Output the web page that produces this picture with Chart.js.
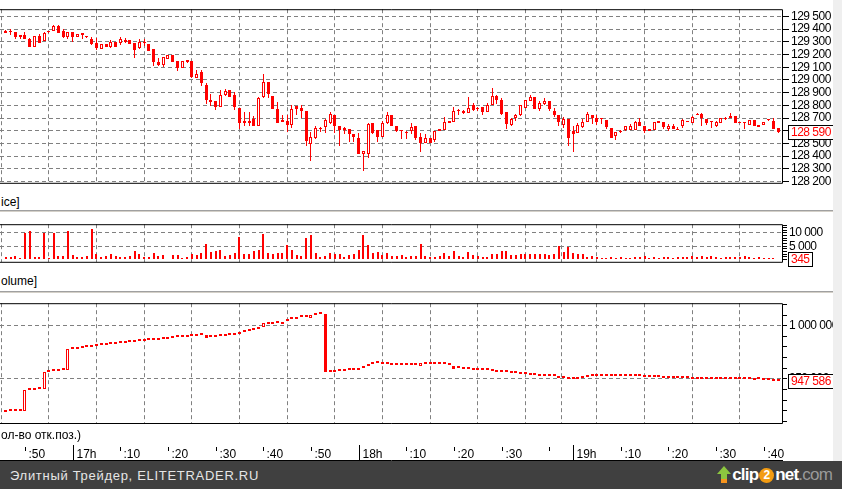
<!DOCTYPE html>
<html>
<head>
<meta charset="utf-8">
<script src="https://cdn.jsdelivr.net/npm/chart.js@4.4.0/dist/chart.umd.min.js"></script>
<style>
  html, body { margin: 0; padding: 0; background: #fff; }
  body { width: 842px; height: 489px; position: relative; overflow: hidden; font-family: "Liberation Sans", Arial, sans-serif; }
  canvas { position: absolute; left: 0; }
  .lbl { position: absolute; left: 1px; font-size: 12px; line-height: 14px; color: #000; white-space: nowrap; }
  .sep { position: absolute; left: 0; width: 833px; height: 1px; background: #a0a0a0; border-bottom: 1px solid #d4d0c8; }
  #strip { position: absolute; left: 833px; top: 0; width: 9px; height: 461px; background: #efefef; z-index: 5; }
  #footer { position: absolute; left: 0; top: 461px; width: 842px; height: 28px; background: #404040; z-index: 6; }
  #site { position: absolute; left: 10px; top: 7px; font-size: 13px; color: #e6e6e6; letter-spacing: 0.7px; }
  #logo { position: absolute; right: 10px; top: 3px; height: 22px; display: flex; align-items: center; font-family: "Liberation Sans", Arial, sans-serif; font-size: 17px; font-weight: bold; letter-spacing: -0.8px; }
  #logo .w { color: #fff; }
  #logo .two { display: inline-block; width: 15px; height: 15px; border-radius: 50%; background: #f39c12; color: #fff; font-size: 12px; line-height: 15px; text-align: center; margin: 0 1px; letter-spacing: 0; }
  #logo .g { color: #9a9a9a; font-weight: normal; }
</style>
</head>
<body>
<canvas id="cPrice" width="842" height="192" style="top:0px"></canvas>
<div class="lbl" style="top:195px">ice]</div>
<div class="sep" style="top:210px"></div>
<canvas id="cVol" width="842" height="56" style="top:215px"></canvas>
<div class="lbl" style="top:274px">olume]</div>
<div class="sep" style="top:291px"></div>
<canvas id="cOI" width="842" height="167" style="top:294px"></canvas>
<div class="lbl" style="top:428px">ол-во отк.поз.)</div>
<div id="strip"></div>
<div id="footer">
  <span id="site">Элитный Трейдер, ELITETRADER.RU</span>
  <span id="logo"><svg width="16" height="20" viewBox="0 0 16 20"><polygon points="8,1 15,9 11,9 11,18 5,18 5,9 1,9" fill="#8cc63f"/><rect x="5" y="14" width="6" height="4" fill="#f7941d"/></svg><span class="w">clip</span><span class="two">2</span><span class="w">net</span><span class="g">.com</span></span>
</div>
<script>
// bar index 0 = 16:45, one bar per minute, 18:45-18:59 skipped
const xTickIdx = [5, 15, 25, 35, 45, 55, 65, 75, 85, 95, 105, 115, 120, 130, 140, 150, 160];
const xTickLabels = [':50', '17h', ':10', ':20', ':30', ':40', ':50', '18h', ':10', ':20', ':30', '', '19h', ':10', ':20', ':30', ':40'];

const priceTicks = [128200, 128300, 128400, 128500, 128600, 128700, 128800, 128900, 129000, 129100, 129200, 129300, 129400, 129500];
const volTicks = [0, 1000, 2000, 3000, 4000, 5000, 6000, 7000, 8000, 9000, 10000, 11000, 12000, 13000];
const volLabelTicks = [5000, 10000];
const oiTicks = [910000, 920000, 930000, 940000, 950000, 960000, 970000, 980000, 990000, 1000000, 1010000, 1020000];
const oiLabelTicks = [950000, 1000000];

const pOpen = [null,129385,129380,129375,129338,129356,129326,129262,129346,129306,
 129375,129383,129425,129383,129338,129375,129336,129350,129348,129326,
 129289,129245,129282,129262,129296,129287,129296,129311,129289,129252,
 129294,129284,129240,129141,129117,129166,129198,129149,129092,129154,
 129149,129016,129066,128960,128844,128835,128785,128878,128923,128878,
 128780,128674,128680,128696,128634,128868,128982,128873,128775,128683,
 128676,128644,128792,128780,128755,128498,128546,128615,128627,128659,
 128721,128640,128622,128615,128578,128546,128413,128413,128664,128603,
 128553,128657,128727,128637,128607,128583,128600,128637,128551,128500,
 128544,128527,128612,128607,128678,128666,128756,128759,128741,128800,
 128771,128783,128751,128805,128873,128844,128746,128644,128698,128722,
 128780,128834,128868,128771,128812,128837,128759,128722,128644,128693,
 128600,128583,128633,128672,128721,128702,128697,128682,128621,128557,
 128591,128603,128608,128608,128672,128640,128616,128608,128677,128665,
 128616,128640,128616,128640,128677,128657,128731,128734,128694,128665,
 128640,128657,128702,128714,128714,128672,128672,128647,128682,128648,
 128648,128682,128677,128621];
const pHigh = [null,129390,129400,129375,129355,129375,129330,129346,129363,129375,
 129378,129432,129432,129400,129375,129375,129358,129368,129348,129336,
 129331,129282,129282,129311,129296,129338,129333,129311,129289,129319,
 129319,129284,129240,129173,129183,129198,129198,129149,129149,129158,
 129149,129075,129075,128977,128886,128838,128923,128928,128923,128905,
 128780,128745,128745,128713,128868,129046,128982,128873,128824,128726,
 128721,128800,128792,128800,128755,128590,128640,128627,128696,128750,
 128721,128640,128632,128615,128578,128583,128440,128664,128664,128603,
 128676,128750,128727,128637,128607,128600,128661,128637,128580,128571,
 128544,128600,128617,128710,128678,128783,128771,128766,128868,128820,
 128783,128783,128820,128934,128883,128856,128746,128702,128734,128800,
 128844,128880,128868,128832,128856,128837,128776,128722,128710,128693,
 128637,128661,128689,128751,128726,128721,128697,128682,128621,128587,
 128603,128640,128652,128677,128697,128640,128616,128672,128677,128665,
 128652,128652,128628,128690,128677,128714,128741,128739,128694,128677,
 128677,128702,128707,128738,128714,128672,128672,128682,128682,128648,
 128672,128684,128697,128621];
const pLow = [null,129373,129350,129320,129326,129321,129262,129262,129289,129306,
 129372,129383,129370,129331,129326,129301,129336,129326,129330,129272,
 129232,129240,129257,129252,129260,129277,129291,129284,129173,129245,
 129265,129227,129112,129112,129100,129166,129141,129072,129092,129130,
 129018,129016,128952,128812,128792,128760,128785,128870,128868,128762,
 128615,128640,128640,128634,128634,128854,128854,128770,128664,128669,
 128590,128622,128726,128700,128480,128361,128536,128590,128583,128652,
 128583,128480,128578,128510,128510,128413,128282,128382,128573,128510,
 128553,128652,128634,128588,128532,128532,128576,128527,128434,128500,
 128502,128515,128598,128607,128658,128666,128722,128734,128741,128759,
 128759,128722,128751,128800,128807,128722,128617,128637,128673,128715,
 128780,128834,128771,128759,128800,128758,128710,128637,128624,128478,
 128429,128583,128623,128672,128653,128648,128653,128616,128542,128530,
 128585,128596,128603,128608,128638,128586,128598,128608,128657,128616,
 128596,128611,128608,128623,128665,128657,128721,128640,128647,128623,
 128633,128657,128687,128697,128657,128657,128616,128647,128640,128633,
 128648,128680,128616,128584];
const pClose = [null,129373,129380,129338,129355,129321,129262,129346,129289,129370,
 129375,129425,129370,129336,129375,129338,129358,129368,129336,129282,
 129252,129282,129257,129301,129260,129319,129314,129284,129232,129296,
 129294,129227,129141,129117,129183,129198,129141,129092,129149,129139,
 129026,129046,128977,128844,128830,128785,128878,128915,128868,128787,
 128659,128659,128664,128634,128854,128982,128886,128770,128664,128669,
 128644,128775,128775,128755,128516,128553,128622,128615,128681,128731,
 128635,128603,128603,128578,128548,128413,128440,128652,128583,128553,
 128664,128721,128634,128600,128598,128583,128629,128539,128502,128544,
 128502,128600,128600,128668,128658,128754,128756,128741,128780,128766,
 128771,128746,128805,128873,128839,128734,128654,128693,128722,128800,
 128844,128868,128771,128820,128832,128771,128722,128668,128693,128546,
 128576,128644,128672,128731,128697,128672,128690,128628,128542,128587,
 128591,128640,128640,128665,128638,128598,128598,128672,128657,128628,
 128640,128611,128608,128682,128665,128707,128721,128697,128657,128665,
 128665,128702,128690,128697,128657,128657,128662,128682,128640,128633,
 128665,128682,128616,128590];

const volume = [null,940,760,1420,570,10130,10890,850,850,10030,
 570,10030,1140,1140,10600,1700,850,850,1140,11640,
 1990,1050,1140,1990,1140,850,940,1230,3120,1990,
 850,850,2270,1330,1510,300,1510,1700,570,850,
 1990,1510,2560,5960,2840,3120,3690,1230,1510,2560,
 8610,1990,1990,3120,3400,9470,2560,1990,2270,2560,
 5400,3400,1700,1420,8240,9090,2560,850,1420,2270,
 1990,1990,850,1700,1990,3400,9090,5400,2270,2840,
 1700,2270,1420,1420,1700,850,1140,1140,5680,1230,
 760,760,1230,2560,1230,3310,1230,760,2840,1700,
 1230,950,760,2180,2180,3310,3120,1700,1510,1990,
 1990,1990,2180,1990,2180,1510,2180,5020,2840,4540,
 2460,2180,1990,760,1230,760,570,570,760,570,
 950,570,570,760,950,1230,570,760,570,760,
 760,570,760,760,950,1140,950,1230,950,1420,
 760,570,760,950,760,950,1140,760,570,760,
 570,470,570,345];

const oiOpen = [null,918800,919400,919700,919700,919700,939700,939700,940000,940000,
 956700,957000,957300,957900,957900,977900,978500,979100,979700,980300,
 980900,981500,981800,982400,983000,983300,983900,984500,984800,985200,
 985500,986100,986400,987000,987600,987900,988800,989100,989400,989700,
 990000,990600,990900,990900,989400,989700,990000,990600,990900,990900,
 992400,994200,995200,996100,996700,999100,1001500,1001800,1002100,1001500,
 1004200,1006400,1006100,1008200,1008500,1007600,1010300,1010900,1011200,956700,
 956700,957000,957300,957900,958500,958500,960300,962100,964200,964500,
 964200,964200,963300,963000,963300,963300,963300,963000,962400,963900,
 963900,963900,963900,963900,963300,962100,960300,959700,959100,958500,
 958500,957900,957900,957300,956700,956700,956100,955800,955500,954900,
 954200,953600,953300,953000,953000,953000,952400,951200,950600,950000,
 950000,950000,951200,951500,952400,952400,952400,952400,952400,952400,
 952400,952400,952400,952400,952400,951800,951800,951500,951500,951200,
 952100,951200,951200,950600,950600,950300,950300,950300,950000,950000,
 950000,950000,950000,950000,950000,949700,949400,949400,949100,949400,
 949100,948800,948300,947586];
const oiClose = [null,918800,919700,919700,919700,939400,939700,939700,940000,956700,
 956700,957300,957900,957900,978500,977900,978500,979100,979700,980300,
 980900,981500,981800,982400,983000,983300,983900,984500,984800,985200,
 985500,986100,986400,987000,987600,987900,988800,989100,989400,989700,
 990000,990600,990900,988200,989400,989700,990000,990600,990900,992700,
 993600,994200,995200,996100,999100,1002700,1001500,1001800,1002100,1003300,
 1005800,1006400,1007900,1008200,1008500,1010000,1010300,1010900,956100,956700,
 956700,957000,957300,957900,958500,960300,962100,963900,964200,964500,
 964200,964200,963300,963000,963300,963300,963300,963000,964800,963900,
 963900,963900,963900,963900,963300,959700,960300,959700,959100,958500,
 958500,957900,957900,957300,956700,956700,956100,955800,955500,954900,
 954200,953600,953300,953000,953000,953600,952400,951200,950600,950000,
 950000,950000,951200,951500,952400,952400,952400,952400,952400,952400,
 952400,952400,952400,952400,952400,951800,951800,951500,951500,951200,
 950600,951200,951200,950600,950600,950300,950300,950300,950000,950000,
 950000,950000,950000,950000,950000,949700,949400,949400,949100,949400,
 949100,948800,948300,947586];

const RED = '#ff0000';
const GRID = '#808080';
const FONT = '"Liberation Sans", Arial, sans-serif';
Chart.defaults.font.family = FONT;
Chart.defaults.font.size = 12;
Chart.defaults.color = '#000';
Chart.defaults.animation = false;

const fmt = v => String(v).replace(/\B(?=(\d{3})+(?!\d))/g, ' ');
const last = arr => arr[arr.length - 1];

// pixel-snap bars so thin candles stay crisp
const snap = {
  id: 'snap',
  beforeDraw(chart) { chart.ctx.letterSpacing = '-0.5px'; },
  afterDatasetsUpdate(chart) {
    chart.getSortedVisibleDatasetMetas().forEach(meta => {
      const ds = meta.controller.getDataset();
      const w = ds.barThickness || 1;
      const m = ds.minBarLength || 0;
      meta.data.forEach(el => {
        el.x = (w % 2 === 1) ? Math.floor(el.x) + 0.5 : Math.round(el.x);
        el.y = Math.round(el.y);
        el.base = Math.round(el.base);
        if (Math.abs(el.y - el.base) < m) el.y = el.base - m;
      });
    });
  }
};

const frame = {
  id: 'frame',
  afterDraw(chart) {
    const { ctx, chartArea: a } = chart;
    ctx.save();
    ctx.strokeStyle = '#000';
    ctx.lineWidth = 1;
    ctx.beginPath();
    ctx.moveTo(0, a.top + 0.5);
    ctx.lineTo(a.right + 0.5, a.top + 0.5);
    ctx.lineTo(a.right + 0.5, a.bottom + 0.5);
    ctx.lineTo(0, a.bottom + 0.5);
    ctx.stroke();
    ctx.restore();
  }
};

function lastBox(value, text) {
  return {
    id: 'lastBox',
    afterDraw(chart) {
      const { ctx, chartArea: a } = chart;
      const y = Math.round(chart.scales.y.getPixelForValue(value));
      ctx.save();
      ctx.font = '12px ' + FONT;
      const w = Math.ceil(ctx.measureText(text).width) + 5;
      const x0 = a.right + 6;
      ctx.fillStyle = '#fff';
      ctx.fillRect(x0, y - 7, w, 14);
      ctx.strokeStyle = '#000';
      ctx.strokeRect(x0 + 0.5, y - 7 + 0.5, w, 14);
      ctx.fillStyle = RED;
      ctx.textBaseline = 'middle';
      ctx.fillText(text, x0 + 3, y + 1);
      ctx.restore();
    }
  };
}

// time labels under the bottom panel
const timeAxis = {
  id: 'timeAxis',
  afterDraw(chart) {
    const { ctx, chartArea: a } = chart;
    const s = chart.scales.x;
    const top = a.bottom + 22;
    ctx.save();
    ctx.strokeStyle = '#000';
    ctx.lineWidth = 1;
    ctx.fillStyle = '#000';
    ctx.font = '12px ' + FONT;
    ctx.letterSpacing = '0px';
    ctx.textBaseline = 'alphabetic';
    xTickIdx.forEach((v, k) => {
      const x = Math.round(s.getPixelForValue(v)) + 0.5;
      const lab = xTickLabels[k];
      const hour = /h$/.test(lab);
      ctx.beginPath();
      ctx.moveTo(x, hour ? top : top + 2);
      ctx.lineTo(x, hour ? top + 16 : top + 6);
      ctx.stroke();
      if (lab) ctx.fillText(lab, x + 3, top + 13);
    });
    ctx.beginPath();
    ctx.moveTo(0, top + 15.5);
    ctx.lineTo(a.right + 1, top + 15.5);
    ctx.stroke();
    ctx.restore();
  }
};

const X_MIN = -0.245, X_MAX = 163.83;
function xScale() {
  return {
    type: 'linear', min: X_MIN, max: X_MAX, offset: false,
    afterBuildTicks: s => { s.ticks = xTickIdx.map(v => ({ value: v })); },
    afterFit: s => { s.height = 0; },
    ticks: { display: false },
    grid: { color: GRID, lineWidth: 1, drawTicks: false },
    border: { display: false, dash: [4, 3] }
  };
}
function yScale(min, max, ticks, labelled, tickLen) {
  return {
    position: 'right', min, max,
    afterBuildTicks: s => { s.ticks = ticks.map(v => ({ value: v })); },
    afterFit: s => { s.width = 60; },
    ticks: {
      autoSkip: false, padding: 2, color: '#000',
      callback: v => labelled.includes(v) ? fmt(v) : ''
    },
    grid: {
      color: c => labelled.includes(c.tick && c.tick.value) ? GRID : 'rgba(0,0,0,0)',
      lineWidth: 1, tickColor: '#000', tickLength: tickLen, tickBorderDash: [], drawTicks: true
    },
    border: { display: false, dash: [4, 3] }
  };
}

const baseOpts = (pad, y) => ({
  responsive: false, devicePixelRatio: 1,
  layout: { padding: pad, autoPadding: false },
  plugins: { legend: { display: false }, tooltip: { enabled: false } },
  scales: { x: xScale(), y }
});

const idx = pClose.map((_, i) => i).filter(i => pClose[i] !== null);
const isUp = (o, c) => c > o;

// price candles
new Chart(document.getElementById('cPrice'), {
  type: 'bar',
  data: {
    datasets: [
      {
        data: idx.map(i => ({ x: i, y: [pOpen[i], pClose[i]] })),
        backgroundColor: idx.map(i => isUp(pOpen[i], pClose[i]) ? '#fff' : RED),
        borderColor: RED, borderWidth: 1, borderSkipped: false,
        barThickness: 3, minBarLength: 1, grouped: false, inflateAmount: 0, order: 0
      },
      {
        data: idx.map(i => ({ x: i, y: [pLow[i], pHigh[i]] })),
        backgroundColor: RED, borderWidth: 0,
        barThickness: 1, minBarLength: 1, grouped: false, inflateAmount: 0, order: 1
      }
    ]
  },
  options: baseOpts({ top: 4, bottom: 3, left: 0, right: 0 }, yScale(128190, 129557, priceTicks, priceTicks, 7)),
  plugins: [snap, frame, lastBox(last(pClose), fmt(last(pClose)))]
});

// volume
new Chart(document.getElementById('cVol'), {
  type: 'bar',
  data: {
    datasets: [{
      data: idx.map(i => ({ x: i, y: volume[i] })),
      backgroundColor: RED, borderWidth: 0,
      barThickness: 2, grouped: false, inflateAmount: 0
    }]
  },
  options: baseOpts({ top: 4, bottom: 2, left: 0, right: 0 }, yScale(-880, 13324, volTicks, volLabelTicks, 5)),
  plugins: [snap, frame, lastBox(last(volume), fmt(last(volume)))]
});

// open interest
new Chart(document.getElementById('cOI'), {
  type: 'bar',
  data: {
    datasets: [{
      data: idx.map(i => ({ x: i, y: [oiOpen[i], oiClose[i]] })),
      backgroundColor: idx.map(i => isUp(oiOpen[i], oiClose[i]) ? '#fff' : RED),
      borderColor: RED, borderWidth: 1, borderSkipped: false,
      barThickness: 3, minBarLength: 2, grouped: false, inflateAmount: 0
    }]
  },
  options: baseOpts({ top: 5, bottom: 38, left: 0, right: 0 }, yScale(908455, 1021182, oiTicks, oiLabelTicks, 5)),
  plugins: [snap, frame, lastBox(last(oiClose), fmt(last(oiClose))), timeAxis]
});
</script>
</body>
</html>
